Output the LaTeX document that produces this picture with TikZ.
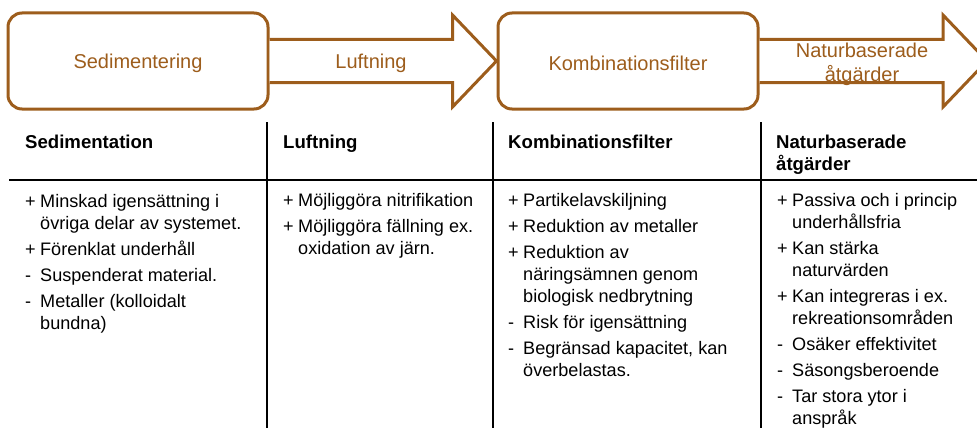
\documentclass[tikz,border=0pt]{standalone}
\usepackage{fontspec}
\setmainfont{Liberation Sans}
\usetikzlibrary{positioning,calc}
\usepackage{xcolor}
\definecolor{processbrown}{RGB}{157,93,28}
\newcommand{\itemplus}{\makebox[15pt][l]{+}}
\newcommand{\itemminus}{\makebox[15pt][l]{-}}
\newcommand{\itemcont}{\hspace*{15pt}}

\begin{document}
\begin{tikzpicture}[
    x=1pt, y=-1pt, % pixel grid, y runs downwards
    process/.style={draw=processbrown, line width=3pt, rounded corners=14pt, minimum width=260pt, minimum height=96pt, text height=20pt, text=processbrown, font=\fontsize{20}{23}\selectfont}, % rounded step box
    flow/.style={draw=processbrown, line width=3pt, fill=white}, % block arrow
    flowlabel/.style={text=processbrown, font=\fontsize{20}{24.5}\selectfont, align=center, inner sep=0pt},
    colhead/.style={anchor=north west, inner sep=0pt, align=left, font=\bfseries\fontsize{18.6}{21}\selectfont}, % table header
    colbody/.style={anchor=north west, inner sep=0pt, align=left, font=\fontsize{18.1}{22}\selectfont}, % table cell
    rule/.style={line width=2pt, black}
]
\useasboundingbox (0,0) rectangle (977,428);
\clip (0,0) rectangle (977,428);

% process chain
\node[process] (sed) at (138,61) {Sedimentering};
\node[process] (komb) at (628,61) {Kombinationsfilter};
\coordinate (tip1) at (komb.west);
\coordinate (tip2) at (987,61);
\foreach \from/\tip in {sed/tip1, komb/tip2}
    \draw[flow] ($(\from.east)+(0,-21.5)$) -- ($(\tip)+(-44,-21.5)$) -- ($(\tip)+(-44,-46)$)
        -- (\tip) -- ($(\tip)+(-44,46)$) -- ($(\tip)+(-44,21.5)$) -- ($(\from.east)+(0,21.5)$);
\node[flowlabel] (luft) at (371,63) {Luftning};
\node[flowlabel] (natur) at (862,64.5) {Naturbaserade\\åtgärder};

% table rules
\draw[rule] (9,180) -- (977,180);
\foreach \x in {267,493,761}
    \draw[rule] (\x,122) -- (\x,428);

% headers
\node[colhead] (hsed) at (25,133.3) {\strut Sedimentation};
\node[colhead] (hluft) at (283,133.3) {\strut Luftning};
\node[colhead] (hkomb) at (508,133.3) {\strut Kombinationsfilter};
\node[colhead] (hnatur) at (776,133.3) {\strut Naturbaserade\\åtgärder};

% cells
\node[colbody] (csed) at (25,191.6) {\strut\itemplus Minskad igensättning i\\
    \itemcont övriga delar av systemet.\\[4pt]
    \itemplus Förenklat underhåll\\[4pt]
    \itemminus Suspenderat material.\\[4pt]
    \itemminus Metaller (kolloidalt\\
    \itemcont bundna)};
\node[colbody] (cluft) at (283,190.6) {\strut\itemplus Möjliggöra nitrifikation\\[4pt]
    \itemplus Möjliggöra fällning ex.\\
    \itemcont oxidation av järn.};
\node[colbody] (ckomb) at (508,190.6) {\strut\itemplus Partikelavskiljning\\[4pt]
    \itemplus Reduktion av metaller\\[4pt]
    \itemplus Reduktion av\\
    \itemcont näringsämnen genom\\
    \itemcont biologisk nedbrytning\\[4pt]
    \itemminus Risk för igensättning\\[4pt]
    \itemminus Begränsad kapacitet, kan\\
    \itemcont överbelastas.};
\node[colbody] (cnatur) at (777,190.6) {\strut\itemplus Passiva och i princip\\
    \itemcont underhållsfria\\[4pt]
    \itemplus Kan stärka\\
    \itemcont naturvärden\\[4pt]
    \itemplus Kan integreras i ex.\\
    \itemcont rekreationsområden\\[4pt]
    \itemminus Osäker effektivitet\\[4pt]
    \itemminus Säsongsberoende\\[4pt]
    \itemminus Tar stora ytor i\\
    \itemcont anspråk};
\end{tikzpicture}
\end{document}
